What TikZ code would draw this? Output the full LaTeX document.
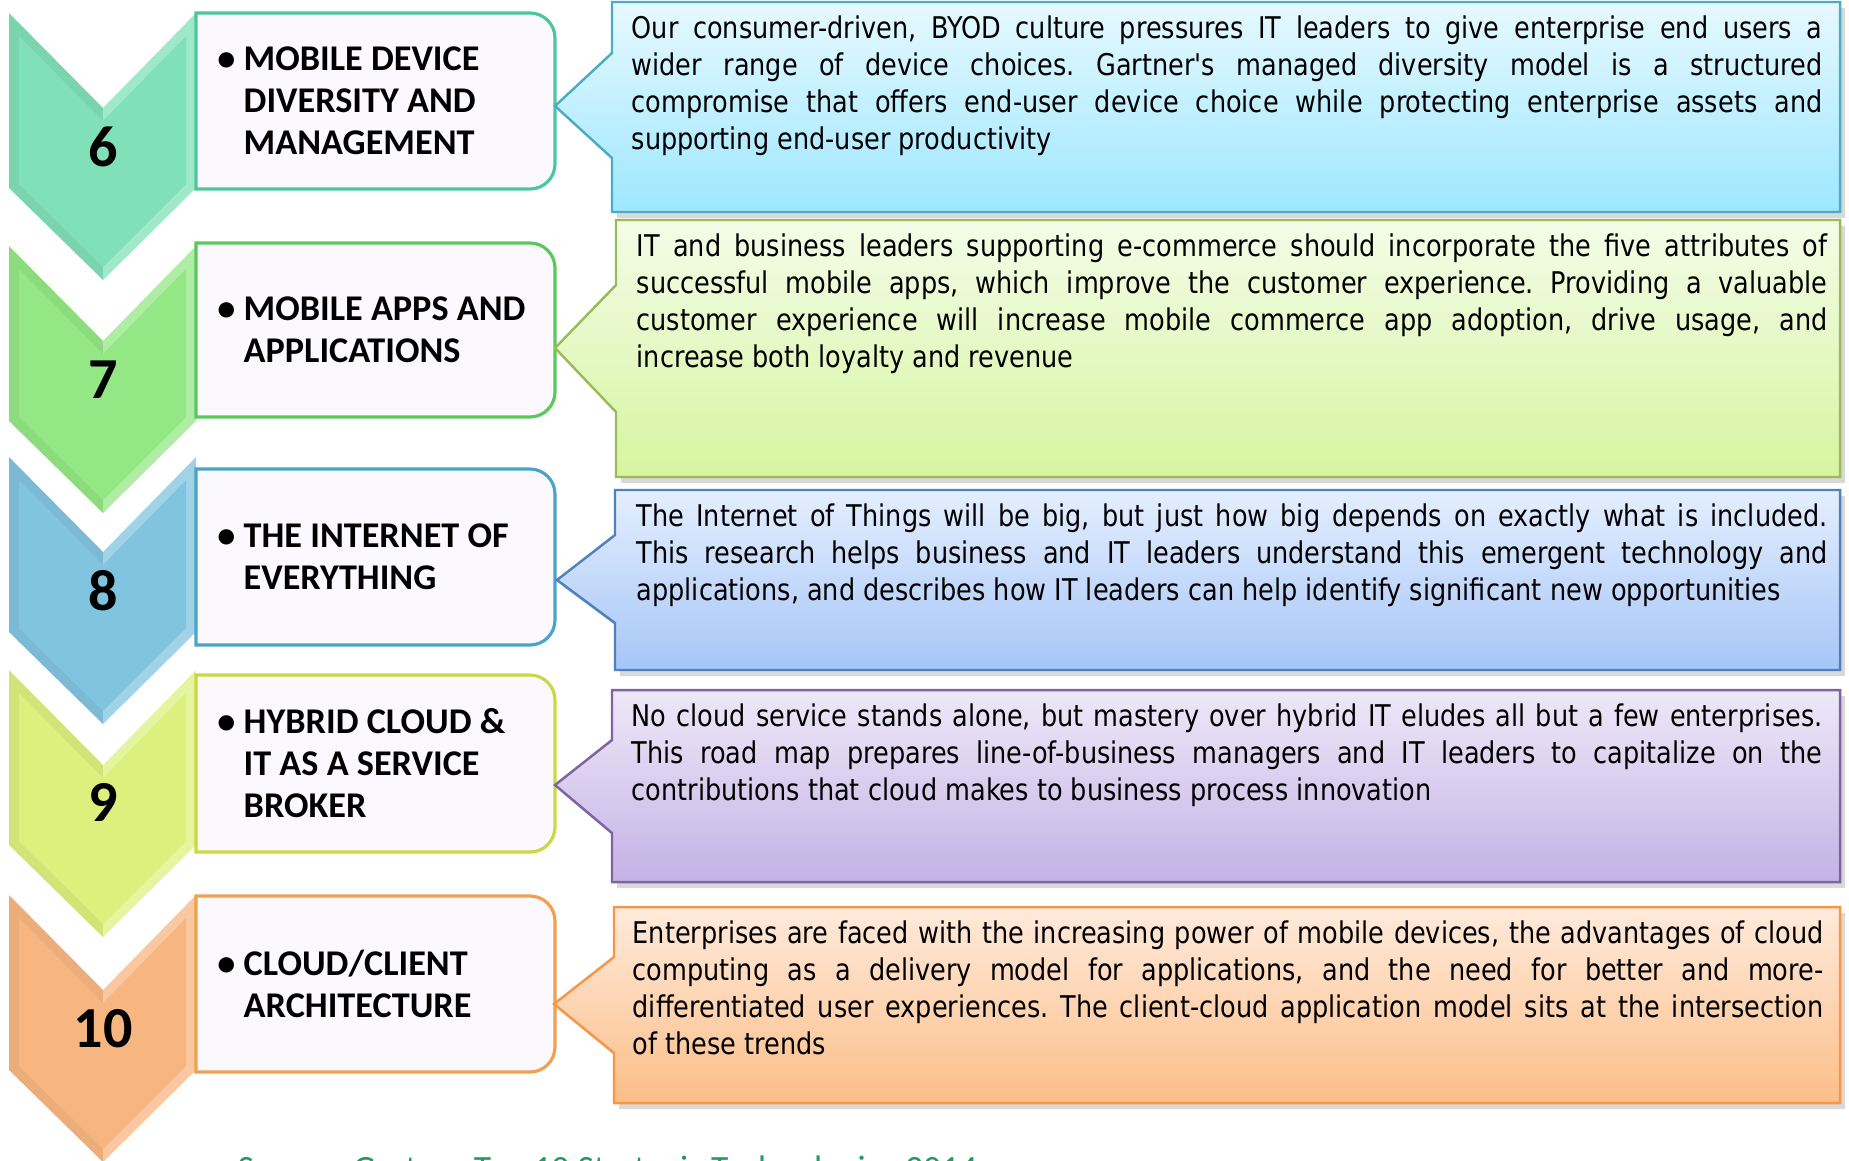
\documentclass[tikz,border=0pt]{standalone}
\usepackage{fontspec}
\usetikzlibrary{shadows}
\newfontfamily\ttlfont{Carlito}
\newfontfamily\descfont[FakeStretch=0.855]{DejaVu Sans}
\newcommand\jline[1]{\makebox[11.9cm][s]{#1}}
\frenchspacing

\definecolor{chA}{HTML}{80E0B8}
\definecolor{chB}{HTML}{93E784}
\definecolor{chC}{HTML}{80C4E0}
\definecolor{chD}{HTML}{DDF07E}
\definecolor{chE}{HTML}{F7B680}
\definecolor{bxA}{HTML}{4CC79A}
\definecolor{bxB}{HTML}{5BC85B}
\definecolor{bxC}{HTML}{4BA3C8}
\definecolor{bxD}{HTML}{C8DA40}
\definecolor{bxE}{HTML}{F0A050}
\definecolor{boxfill}{HTML}{FBF9FD}
\definecolor{tpA}{HTML}{E6F9FF}
\definecolor{btA}{HTML}{9EE7FF}
\definecolor{lnA}{HTML}{4BACC6}
\definecolor{tpB}{HTML}{F4FCE8}
\definecolor{btB}{HTML}{D6F5A0}
\definecolor{lnB}{HTML}{9BBB59}
\definecolor{tpC}{HTML}{E4EEFF}
\definecolor{btC}{HTML}{A6C6F7}
\definecolor{lnC}{HTML}{4F81BD}
\definecolor{tpD}{HTML}{EEE8F8}
\definecolor{btD}{HTML}{C4B2E5}
\definecolor{lnD}{HTML}{8064A2}
\definecolor{tpE}{HTML}{FFEADB}
\definecolor{btE}{HTML}{FBBE88}
\definecolor{lnE}{HTML}{F79646}
\definecolor{srcgreen}{HTML}{1E9E5E}

\tikzset{
  ttlbox/.style={fill=boxfill, line width=0.9pt},
  ttl/.style={anchor=west, align=left, inner sep=0pt, font=\ttlfont\bfseries\fontsize{10.3}{11.95}\selectfont},
  num/.style={inner sep=0pt, font=\ttlfont\bfseries\fontsize{16.5}{18}\selectfont},
  callout/.style={line width=0.7pt, drop shadow={shadow xshift=0.05cm, shadow yshift=-0.06cm, opacity=0.3}},
  desc/.style={anchor=north west, align=left, inner sep=0pt, font=\descfont\fontsize{8.5}{10.5}\selectfont}
}

\begin{document}
\begin{tikzpicture}[x=0.01cm, y=-0.01cm]
\useasboundingbox (0,0) rectangle (1849,1160);

% chevrons
\foreach \t/\c in {13/chA, 246/chB, 457/chC, 670/chD, 895/chE} {
  \fill[\c!95!black] (9,\t) -- (103,\t+95) -- (103,\t+267) -- (9,\t+175) -- cycle;
  \fill[\c!75!white] (103,\t+95) -- (196,\t) -- (196,\t+175) -- (103,\t+267) -- cycle;
  \fill[\c] (19,\t+23) -- (103,\t+108) -- (186,\t+23) -- (186,\t+171) -- (103,\t+254) -- (19,\t+171) -- cycle;
}
\node[num] (n6) at (103,147) {6};
\node[num] (n7) at (103,380) {7};
\node[num] (n8) at (103,591) {8};
\node[num] (n9) at (103,802) {9};
\node[num] (n10) at (103,1029) {10};

% title boxes
\foreach \t/\b/\c in {13/189/bxA, 243/417/bxB, 469/645/bxC, 675/852/bxD, 896/1072/bxE}
  \draw[ttlbox, draw=\c] (196,\t) -- (530,\t) arc[start angle=-90, end angle=0, radius=25]
    -- (555,\b-25) arc[start angle=0, end angle=90, radius=25] -- (196,\b) -- cycle;

\node[ttl] (t6) at (243,101) {\llap{\textbullet\ }MOBILE DEVICE\\DIVERSITY AND\\MANAGEMENT};
\node[ttl] (t7) at (243,330) {\llap{\textbullet\ }MOBILE APPS AND\\APPLICATIONS};
\node[ttl] (t8) at (243,557) {\llap{\textbullet\ }THE INTERNET OF\\EVERYTHING};
\node[ttl] (t9) at (243,763) {\llap{\textbullet\ }HYBRID CLOUD \&\\IT AS A SERVICE\\BROKER};
\node[ttl] (t10) at (243,984) {\llap{\textbullet\ }CLOUD/CLIENT\\ARCHITECTURE};

% callouts
\foreach \l/\tp/\b/\p/\q/\tx/\ty/\c in {612/2/212/53/158/555/106/A, 616/220/477/285/412/555/348/B,
    615/490/670/535/623/557/580/C, 612/690/882/740/833/555/785/D, 614/907/1103/957/1053/554/1004/E}
  \draw[callout, draw=ln\c, top color=tp\c, bottom color=bt\c]
    (\l,\tp) -- (1840,\tp) -- (1840,\b) -- (\l,\b) -- (\l,\q) -- (\tx,\ty) -- (\l,\p) -- cycle;

\node[desc] (d6) at (631,15) {\jline{Our consumer-driven, BYOD culture pressures IT leaders to give enterprise end users a}\\
  \jline{wider range of device choices. Gartner's managed diversity model is a structured}\\
  \jline{compromise that offers end-user device choice while protecting enterprise assets and}\\
  supporting end-user productivity};
\node[desc] (d7) at (636,233) {\jline{IT and business leaders supporting e-commerce should incorporate the five attributes of}\\
  \jline{successful mobile apps, which improve the customer experience. Providing a valuable}\\
  \jline{customer experience will increase mobile commerce app adoption, drive usage, and}\\
  increase both loyalty and revenue};
\node[desc] (d8) at (636,503) {\jline{The Internet of Things will be big, but just how big depends on exactly what is included.}\\
  \jline{This research helps business and IT leaders understand this emergent technology and}\\
  applications, and describes how IT leaders can help identify significant new opportunities};
\node[desc] (d9) at (631,703) {\jline{No cloud service stands alone, but mastery over hybrid IT eludes all but a few enterprises.}\\
  \jline{This road map prepares line-of-business managers and IT leaders to capitalize on the}\\
  contributions that cloud makes to business process innovation};
\node[desc] (d10) at (632,920) {\jline{Enterprises are faced with the increasing power of mobile devices, the advantages of cloud}\\
  \jline{computing as a delivery model for applications, and the need for better and more-}\\
  \jline{differentiated user experiences. The client-cloud application model sits at the intersection}\\
  of these trends};

% source line, cut by the lower edge
\begin{scope}
\clip (0,0) rectangle (1849,1160);
\node[anchor=base west, inner sep=0pt, text=srcgreen, font=\ttlfont\fontsize{10.1}{12}\selectfont] (src) at (237,1180)
  {Source: Gartner Top 10 Strategic Technologies 2014};
\end{scope}
\end{tikzpicture}
\end{document}
